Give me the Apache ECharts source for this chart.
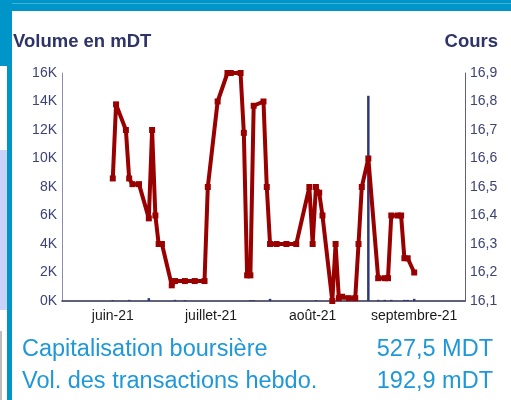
<!DOCTYPE html>
<html>
<head>
<meta charset="utf-8">
<script src="https://cdn.jsdelivr.net/npm/echarts@6/dist/echarts.min.js"></script>
<style>
html,body{margin:0;padding:0;background:#fff;}
#c{width:511px;height:400px;}
</style>
</head>
<body>
<div id="c"></div>
<script>
// ---- data ----
var axisStart = '2021-05-17';
var axisDays = 123;
var monthLabels = {'06': 'juin-21', '07': 'juillet-21', '08': 'août-21', '09': 'septembre-21'};

var coursDates = ['2021-06-01','2021-06-02','2021-06-05','2021-06-06','2021-06-07','2021-06-09','2021-06-12','2021-06-13','2021-06-14','2021-06-15','2021-06-16','2021-06-19','2021-06-20','2021-06-23','2021-06-26','2021-06-29','2021-06-30','2021-07-03','2021-07-06','2021-07-07','2021-07-10','2021-07-11','2021-07-12','2021-07-13','2021-07-14','2021-07-17','2021-07-18','2021-07-19','2021-07-21','2021-07-24','2021-07-27','2021-07-31','2021-08-01','2021-08-02','2021-08-03','2021-08-04','2021-08-07','2021-08-08','2021-08-09','2021-08-10','2021-08-12','2021-08-14','2021-08-15','2021-08-16','2021-08-18','2021-08-21','2021-08-23','2021-08-24','2021-08-25','2021-08-27','2021-08-28','2021-08-29','2021-08-30','2021-09-01'];
var coursValues = [16.53,16.79,16.70,16.53,16.51,16.51,16.39,16.70,16.40,16.30,16.30,16.155,16.17,16.17,16.17,16.17,16.50,16.80,16.90,16.90,16.90,16.69,16.19,16.19,16.785,16.80,16.50,16.30,16.30,16.30,16.30,16.50,16.30,16.50,16.48,16.40,16.10,16.30,16.11,16.115,16.11,16.11,16.30,16.50,16.60,16.18,16.18,16.18,16.40,16.40,16.40,16.25,16.25,16.20];

var volumeDates = ['2021-06-01','2021-06-06','2021-06-12','2021-06-20','2021-06-23','2021-07-13','2021-07-14','2021-07-19','2021-08-02','2021-08-07','2021-08-18','2021-08-21','2021-08-23','2021-08-25','2021-08-29','2021-08-30','2021-09-01'];
var volumeValues = [60,80,200,80,60,60,60,150,60,60,14400,80,80,80,80,80,150];

var volTicks = {min: 0, max: 16000, interval: 2000};
var coursTicks = {min: 16.1, max: 16.9, interval: 0.1};

var infoLabels = ['Capitalisation boursière', 'Vol. des transactions hebdo.'];
var infoValues = ['527,5 MDT', '192,9 mDT'];

// ---- build category axis (calendar days) ----
function pad(n){ return (n < 10 ? '0' : '') + n; }
var cats = [];
var t0 = Date.UTC(2021, 4, 17);
for (var i = 0; i < axisDays; i++) {
  var d = new Date(t0 + i * 86400000);
  cats.push(d.getUTCFullYear() + '-' + pad(d.getUTCMonth() + 1) + '-' + pad(d.getUTCDate()));
}
var lineData = coursDates.map(function(d, i){ return [d, coursValues[i]]; });
var barData = volumeDates.map(function(d, i){ return [d, volumeValues[i]]; });

var FONT = 'Liberation Sans, Arial, sans-serif';
var BLUE = '#0095c8';

var chart = echarts.init(document.getElementById('c'), null, {renderer: 'canvas'});
chart.setOption({
  backgroundColor: '#ffffff',
  animation: false,
  grid: {left: 62, right: 46, top: 73, bottom: 99, containLabel: false},
  xAxis: {
    type: 'category',
    data: cats,
    boundaryGap: true,
    axisLine: {show: true, lineStyle: {color: '#2b2f4f', width: 1.5}},
    axisTick: {show: false},
    splitLine: {show: false},
    axisLabel: {
      interval: function(idx, val){ return val.slice(8) === '01'; },
      formatter: function(val){ return monthLabels[val.slice(5, 7)] || ''; },
      color: '#1a1a1a', fontFamily: FONT, fontSize: 14, margin: 8
    }
  },
  yAxis: [
    {
      type: 'value', position: 'left',
      min: volTicks.min, max: volTicks.max, interval: volTicks.interval,
      axisLine: {show: true, lineStyle: {color: '#8a8eb0', width: 1}},
      axisTick: {show: false},
      splitLine: {show: false},
      axisLabel: {
        formatter: function(v){ return Math.round(v / 1000) + 'K'; },
        color: '#3e4373', fontFamily: FONT, fontSize: 14, margin: 5
      }
    },
    {
      type: 'value', position: 'right',
      min: coursTicks.min, max: coursTicks.max, interval: coursTicks.interval,
      axisLine: {show: true, lineStyle: {color: '#5a5f90', width: 1}},
      axisTick: {show: false},
      splitLine: {show: false},
      axisLabel: {
        formatter: function(v){ return v.toFixed(1).replace('.', ','); },
        color: '#3e4373', fontFamily: FONT, fontSize: 14, margin: 5
      }
    }
  ],
  series: [
    {
      type: 'bar', yAxisIndex: 0, data: barData,
      barWidth: 2.5,
      itemStyle: {color: '#2e3878'},
      z: 2
    },
    {
      type: 'line', yAxisIndex: 1, data: lineData,
      clip: false,
      lineStyle: {color: '#990000', width: 4},
      itemStyle: {color: '#990000'},
      symbol: 'rect', symbolSize: 6, showSymbol: true, showAllSymbol: true,
      z: 3
    }
  ],
  graphic: [
    {type: 'rect', shape: {x: 0, y: 0, width: 511, height: 11}, style: {fill: BLUE}, silent: true},
    {type: 'rect', shape: {x: 0, y: 3, width: 511, height: 1}, style: {fill: '#45b2dc'}, silent: true},
    {type: 'rect', shape: {x: 0, y: 0, width: 12, height: 66}, style: {fill: BLUE}, silent: true},
    {type: 'rect', shape: {x: 0, y: 150, width: 7, height: 160}, style: {fill: '#c9d3fa'}, silent: true},
    {type: 'rect', shape: {x: 0, y: 331, width: 2, height: 69}, style: {fill: '#bdbdbd'}, silent: true},
    {type: 'rect', shape: {x: 7, y: 0, width: 5, height: 400}, style: {fill: BLUE}, silent: true},
    {type: 'text', left: 13, top: 32, style: {text: 'Volume en mDT', fill: '#2e3469', font: 'bold 18.5px ' + FONT}},
    {type: 'text', right: 13, top: 32, style: {text: 'Cours', fill: '#2e3469', font: 'bold 18.5px ' + FONT}},
    {type: 'text', left: 22, top: 338, style: {text: infoLabels[0], fill: '#1e98d8', font: '23.5px ' + FONT}},
    {type: 'text', right: 18, top: 338, style: {text: infoValues[0], fill: '#1e98d8', font: '23.5px ' + FONT}},
    {type: 'text', left: 22, top: 370, style: {text: infoLabels[1], fill: '#1e98d8', font: '23.5px ' + FONT}},
    {type: 'text', right: 18, top: 370, style: {text: infoValues[1], fill: '#1e98d8', font: '23.5px ' + FONT}}
  ]
});
</script>
</body>
</html>
